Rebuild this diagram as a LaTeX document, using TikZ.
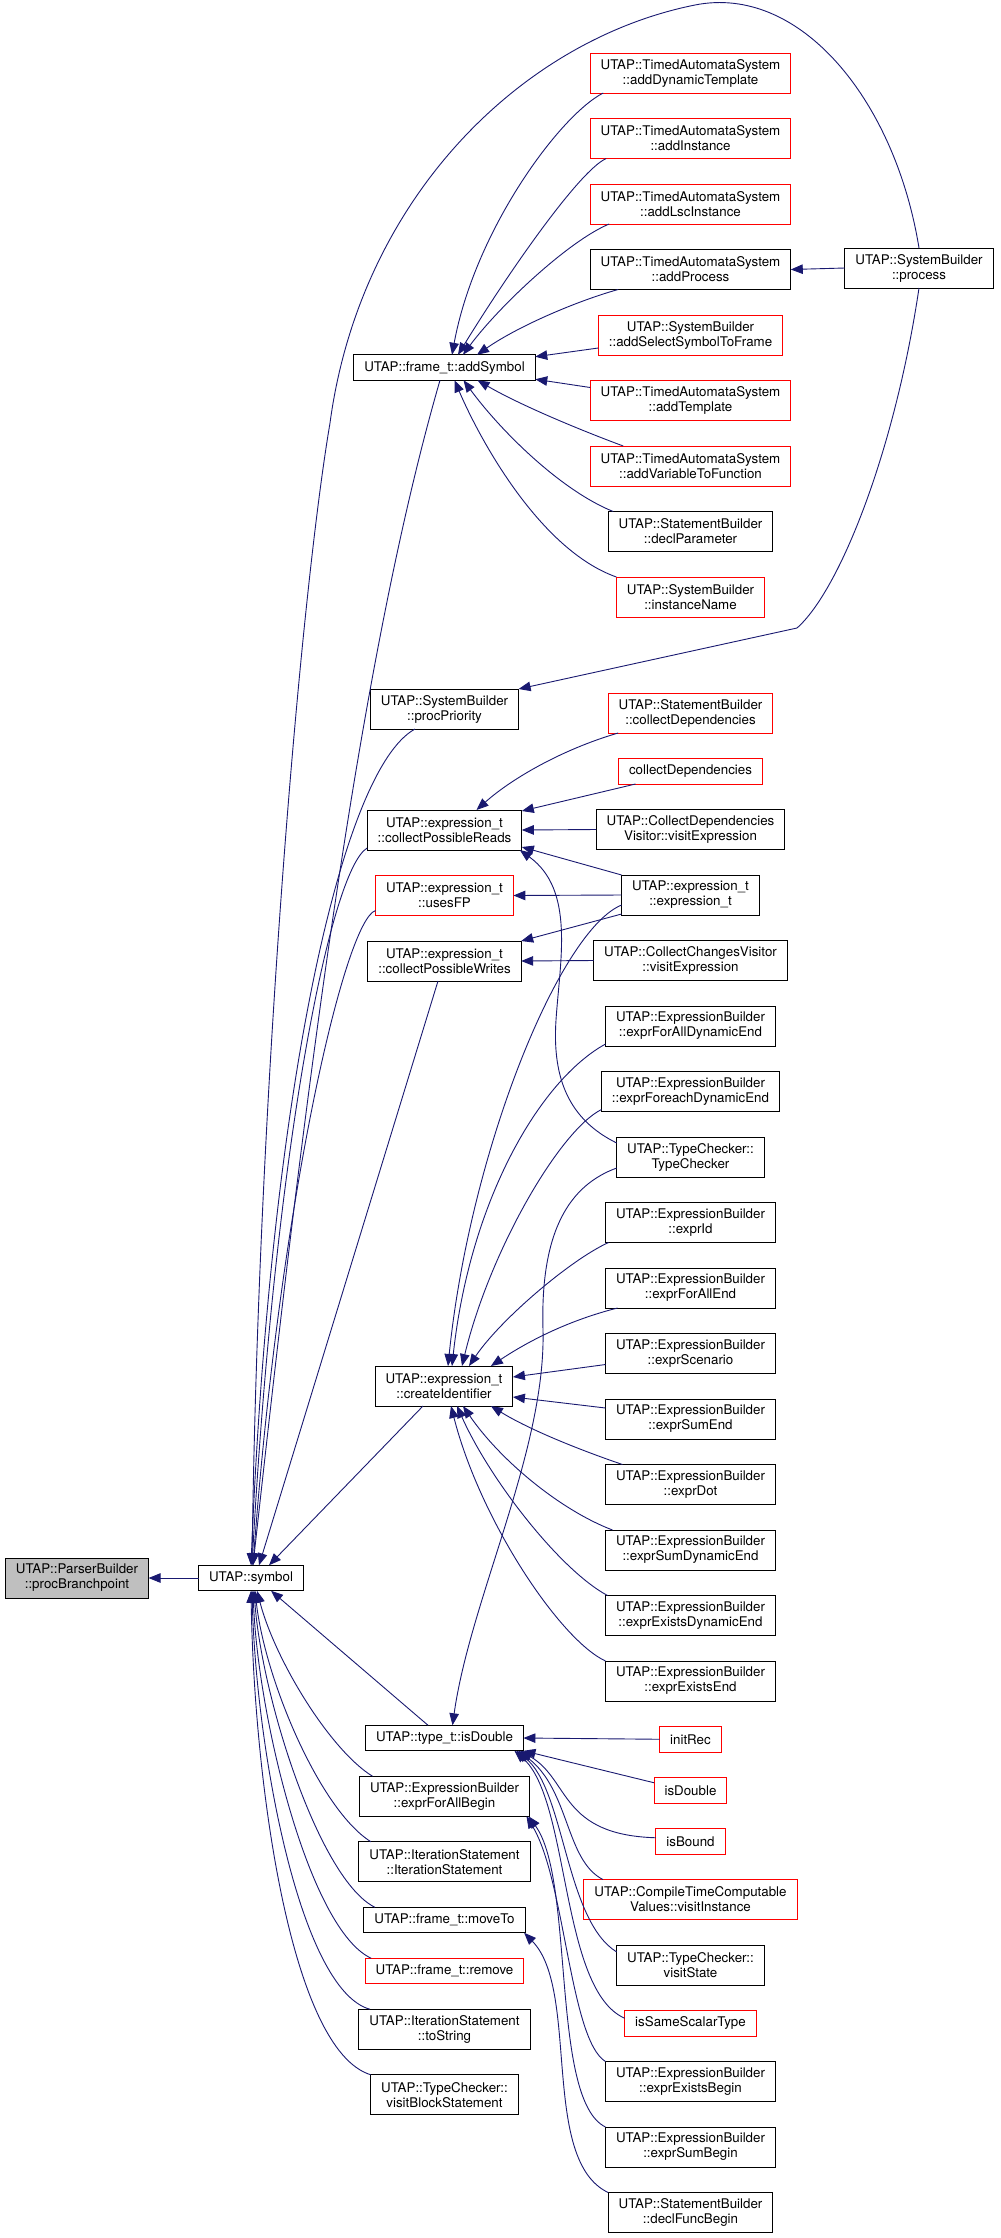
\documentclass[tikz,border=0pt]{standalone}
\usepackage{fontspec}
\setmainfont{TeX Gyre Heros}
\usepackage{xcolor}
\usepackage{tikz}
\usetikzlibrary{arrows.meta,positioning}

\definecolor{callblue}{HTML}{191970}
\definecolor{focusgray}{HTML}{BFBFBF}

\tikzset{
  fn/.style={rectangle, draw=black, line width=1pt, outer sep=0pt, align=center, inner xsep=10.5pt, inner ysep=2pt, minimum height=40pt, font=\fontsize{13.33}{15}\selectfont},
  fnone/.style={fn, minimum height=25.5pt},
  ext/.style={draw=red},
  calls/.style={draw=callblue, line width=0.9pt, -{Triangle[length=12pt,width=9.5pt]}},
}

\begin{document}
\begin{tikzpicture}[x=1pt, y=-1pt, node distance=25.5pt]
    \useasboundingbox (0,0) rectangle (1001,2238);

    \node (branch) [fn, fill=focusgray] at (77,1578) {UTAP::ParserBuilder\\::procBranchpoint};
    \node (symbol) [fnone] at (251,1578) {UTAP::symbol};

    \node (addSymbol) [fnone] at (444.5,367.5) {UTAP::frame\_t::addSymbol};
    \node (procPriority) [fn] at (444.5,709) {UTAP::SystemBuilder\\::procPriority};
    \node (reads) [fn] at (444.5,830) {UTAP::expression\_t\\::collectPossibleReads};
    \node (usesFP) [fn, ext, below=of reads] {UTAP::expression\_t\\::usesFP};
    \node (writes) [fn, below=of usesFP] {UTAP::expression\_t\\::collectPossibleWrites};
    \node (createId) [fn] at (444,1386) {UTAP::expression\_t\\::createIdentifier};
    \node (isDoubleT) [fnone] at (444.5,1738) {UTAP::type\_t::isDouble};
    \node (forAllBegin) [fn, below=of isDoubleT] {UTAP::ExpressionBuilder\\::exprForAllBegin};
    \node (iterStmt) [fn, below=of forAllBegin] {UTAP::IterationStatement\\::IterationStatement};
    \node (moveTo) [fnone, below=of iterStmt] {UTAP::frame\_t::moveTo};
    \node (remove) [fnone, ext, below=of moveTo] {UTAP::frame\_t::remove};
    \node (toString) [fn, below=of remove] {UTAP::IterationStatement\\::toString};
    \node (visitBlock) [fn, below=of toString] {UTAP::TypeChecker::\\visitBlockStatement};

    \node (addDynTemplate) [fn, ext] at (690.5,73) {UTAP::TimedAutomataSystem\\::addDynamicTemplate};
    \node (addInstance) [fn, ext, below=of addDynTemplate] {UTAP::TimedAutomataSystem\\::addInstance};
    \node (addLscInstance) [fn, ext, below=of addInstance] {UTAP::TimedAutomataSystem\\::addLscInstance};
    \node (addProcess) [fn, below=of addLscInstance] {UTAP::TimedAutomataSystem\\::addProcess};
    \node (addSelect) [fn, ext, below=of addProcess] {UTAP::SystemBuilder\\::addSelectSymbolToFrame};
    \node (addTemplate) [fn, ext, below=of addSelect] {UTAP::TimedAutomataSystem\\::addTemplate};
    \node (addVarToFunc) [fn, ext, below=of addTemplate] {UTAP::TimedAutomataSystem\\::addVariableToFunction};
    \node (declParameter) [fn, below=of addVarToFunc] {UTAP::StatementBuilder\\::declParameter};
    \node (instanceName) [fn, ext, below=of declParameter] {UTAP::SystemBuilder\\::instanceName};
    \node (process) [fn] at (919,268) {UTAP::SystemBuilder\\::process};

    \node (sbCollectDeps) [fn, ext] at (690.5,713) {UTAP::StatementBuilder\\::collectDependencies};
    \node (collectDeps) [fnone, ext, below=of sbCollectDeps] {collectDependencies};
    \node (cdVisitor) [fn, below=of collectDeps] {UTAP::CollectDependencies\\Visitor::visitExpression};
    \node (exprCtor) [fn, below=of cdVisitor] {UTAP::expression\_t\\::expression\_t};
    \node (ccVisitor) [fn, below=of exprCtor] {UTAP::CollectChangesVisitor\\::visitExpression};
    \node (forAllDynEnd) [fn, below=of ccVisitor] {UTAP::ExpressionBuilder\\::exprForAllDynamicEnd};
    \node (foreachDynEnd) [fn, below=of forAllDynEnd] {UTAP::ExpressionBuilder\\::exprForeachDynamicEnd};
    \node (tcCtor) [fn, below=of foreachDynEnd] {UTAP::TypeChecker::\\TypeChecker};
    \node (exprId) [fn, below=of tcCtor] {UTAP::ExpressionBuilder\\::exprId};
    \node (forAllEnd) [fn, below=of exprId] {UTAP::ExpressionBuilder\\::exprForAllEnd};
    \node (scenario) [fn, below=of forAllEnd] {UTAP::ExpressionBuilder\\::exprScenario};
    \node (sumEnd) [fn, below=of scenario] {UTAP::ExpressionBuilder\\::exprSumEnd};
    \node (dot) [fn, below=of sumEnd] {UTAP::ExpressionBuilder\\::exprDot};
    \node (sumDynEnd) [fn, below=of dot] {UTAP::ExpressionBuilder\\::exprSumDynamicEnd};
    \node (existsDynEnd) [fn, below=of sumDynEnd] {UTAP::ExpressionBuilder\\::exprExistsDynamicEnd};
    \node (existsEnd) [fn, below=of existsDynEnd] {UTAP::ExpressionBuilder\\::exprExistsEnd};
    \node (initRec) [fnone, ext, below=of existsEnd] {initRec};
    \node (isDouble) [fnone, ext, below=of initRec] {isDouble};
    \node (isBound) [fnone, ext, below=of isDouble] {isBound};
    \node (ctcValues) [fn, ext, below=of isBound] {UTAP::CompileTimeComputable\\Values::visitInstance};
    \node (visitState) [fn, below=of ctcValues] {UTAP::TypeChecker::\\visitState};
    \node (sameScalar) [fnone, ext, below=of visitState] {isSameScalarType};
    \node (existsBegin) [fn, below=of sameScalar] {UTAP::ExpressionBuilder\\::exprExistsBegin};
    \node (sumBegin) [fn, below=of existsBegin] {UTAP::ExpressionBuilder\\::exprSumBegin};
    \node (declFuncBegin) [fn, below=of sumBegin] {UTAP::StatementBuilder\\::declFuncBegin};

    \draw [calls] (symbol.west) -- (branch.east);
    \draw [calls] (process.west) -- (addProcess.east);
    \draw [calls] (process.north) .. controls (895,100) and (800,-16) .. (695,5) .. controls (520,40) and (360,200) .. (330,423) .. controls (300,600) and (258,1100) .. ([xshift=1pt]symbol.north);
    \draw [calls] (process.south) .. controls (895,450) and (840,590) .. (797,628) -- (procPriority.north east);

    \draw [calls] ([xshift=13pt]addDynTemplate.south west) .. controls (560,115) and (475,230) .. ([xshift=7.5pt]addSymbol.north);
    \draw [calls] ([xshift=16pt]addInstance.south west) .. controls (580,170) and (510,270) .. ([xshift=13.5pt]addSymbol.north);
    \draw [calls] ([xshift=19pt]addLscInstance.south west) .. controls (570,240) and (500,305) .. ([xshift=18.5pt]addSymbol.north);
    \draw [calls] ([xshift=28pt]addProcess.south west) .. controls (580,300) and (520,325) .. ([xshift=32.5pt]addSymbol.north);
    \draw [calls] ([yshift=-13pt]addSelect.west) -- ([yshift=-2pt]addSymbol.north east);
    \draw [calls] ([yshift=13pt]addTemplate.west) -- ([yshift=1pt]addSymbol.south east);
    \draw [calls] ([xshift=33pt]addVarToFunc.north west) .. controls (580,430) and (520,405) .. ([xshift=33pt]addSymbol.south);
    \draw [calls] ([xshift=5pt]declParameter.north west) .. controls (560,490) and (500,430) .. ([xshift=19pt]addSymbol.south);
    \draw [calls] (instanceName.north west) .. controls (540,550) and (480,440) .. ([xshift=10pt]addSymbol.south);

    \draw [calls] ([xshift=-4.5pt]addSymbol.south) .. controls (353,680) and (297,1166) .. ([xshift=2pt]symbol.north);
    \draw [calls] ([xshift=-29.5pt]procPriority.south) .. controls (340,770) and (270,1100) .. (symbol.north);
    \draw [calls] ([yshift=2pt]reads.south west) .. controls (330,870) and (275,1150) .. ([xshift=1pt]symbol.north);
    \draw [calls] ([yshift=-15pt]usesFP.west) .. controls (345,920) and (280,1200) .. ([xshift=2pt]symbol.north);
    \draw [calls] ([xshift=-6.5pt]writes.south) -- ([xshift=8pt]symbol.north);
    \draw [calls] ([xshift=-21pt]createId.south) -- ([xshift=18pt]symbol.north);

    \draw [calls] ([xshift=-16.5pt]isDoubleT.north) -- ([xshift=20pt]symbol.south);
    \draw [calls] ([xshift=13pt]forAllBegin.north west) .. controls (330,1750) and (275,1660) .. ([xshift=6pt]symbol.south);
    \draw [calls] ([xshift=12pt]iterStmt.north west) .. controls (320,1810) and (265,1680) .. ([xshift=4pt]symbol.south);
    \draw [calls] ([xshift=11pt]moveTo.north west) .. controls (320,1880) and (262,1700) .. ([xshift=3pt]symbol.south);
    \draw [calls] ([xshift=6pt]remove.north west) .. controls (310,1930) and (258,1720) .. ([xshift=2pt]symbol.south);
    \draw [calls] ([xshift=11pt]toString.north west) .. controls (300,1990) and (256,1750) .. ([xshift=1pt]symbol.south);
    \draw [calls] (visitBlock.north west) .. controls (290,2050) and (254,1780) .. (symbol.south);

    \draw [calls] ([xshift=10pt]sbCollectDeps.south west) .. controls (560,750) and (510,780) .. ([xshift=32pt]reads.north);
    \draw [calls] ([xshift=17pt]collectDeps.south west) -- ([yshift=-1pt]reads.north east);
    \draw [calls] (cdVisitor.west) -- (reads.east);
    \draw [calls] (exprCtor.north west) -- ([yshift=3pt]reads.south east);
    \draw [calls] ([yshift=14pt]tcCtor.west) .. controls (570,1120) and (552,1080) .. (556,1020) .. controls (560,960) and (575,890) .. ([xshift=-2pt]reads.south east);
    \draw [calls] (exprCtor.west) -- (usesFP.east);
    \draw [calls] ([yshift=-19pt]exprCtor.west) -- (writes.north east);
    \draw [calls] (ccVisitor.west) -- (writes.east);

    \draw [calls] ([yshift=-10pt]exprCtor.west) .. controls (560,930) and (470,1150) .. ([xshift=4pt]createId.north);
    \draw [calls] ([yshift=-18pt]forAllDynEnd.west) .. controls (540,1080) and (470,1200) .. ([xshift=8pt]createId.north);
    \draw [calls] ([yshift=-18pt]foreachDynEnd.west) .. controls (560,1130) and (490,1250) .. ([xshift=18pt]createId.north);
    \draw [calls] ([xshift=3pt]exprId.south west) .. controls (570,1260) and (500,1320) .. ([xshift=25pt]createId.north);
    \draw [calls] ([xshift=12pt]forAllEnd.south west) .. controls (570,1320) and (530,1340) .. ([xshift=-22pt]createId.north east);
    \draw [calls] ([yshift=-11pt]scenario.west) -- ([yshift=9pt]createId.east);
    \draw [calls] ([yshift=11pt]sumEnd.west) -- ([yshift=-11pt]createId.east);
    \draw [calls] ([xshift=17pt]dot.north west) .. controls (580,1450) and (530,1430) .. ([xshift=-22pt]createId.south east);
    \draw [calls] ([xshift=7pt]sumDynEnd.north west) .. controls (560,1510) and (500,1460) .. ([xshift=19pt]createId.south);
    \draw [calls] ([xshift=2pt]existsDynEnd.north west) .. controls (560,1570) and (490,1480) .. ([xshift=13pt]createId.south);
    \draw [calls] (existsEnd.north west) .. controls (560,1640) and (480,1520) .. ([xshift=7pt]createId.south);

    \draw [calls] ([yshift=-11pt]tcCtor.west) .. controls (570,1185) and (540,1230) .. (543,1330) .. controls (546,1450) and (470,1600) .. ([xshift=8pt]isDoubleT.north);
    \draw [calls] (initRec.west) -- (isDoubleT.east);
    \draw [calls] ([yshift=7.5pt]isDouble.west) -- (isDoubleT.south east);
    \draw [calls] ([yshift=3.5pt]isBound.west) .. controls (560,1835) and (570,1780) .. ([xshift=-3pt]isDoubleT.south east);
    \draw [calls] ([xshift=19pt]ctcValues.north west) .. controls (565,1860) and (570,1790) .. ([xshift=-5pt]isDoubleT.south east);
    \draw [calls] ([yshift=13pt]visitState.west) .. controls (565,1920) and (565,1790) .. ([xshift=-7pt]isDoubleT.south east);
    \draw [calls] ([yshift=5pt]sameScalar.west) .. controls (560,1990) and (570,1800) .. ([xshift=-9pt]isDoubleT.south east);

    \draw [calls] (existsBegin.north west) .. controls (570,2040) and (565,1880) .. ([xshift=-3pt]forAllBegin.south east);
    \draw [calls] (sumBegin.north west) .. controls (550,2100) and (575,1880) .. ([xshift=-1pt]forAllBegin.south east);
    \draw [calls] (declFuncBegin.north west) .. controls (540,2160) and (580,1990) .. ([xshift=-1pt]moveTo.south east);
\end{tikzpicture}
\end{document}
